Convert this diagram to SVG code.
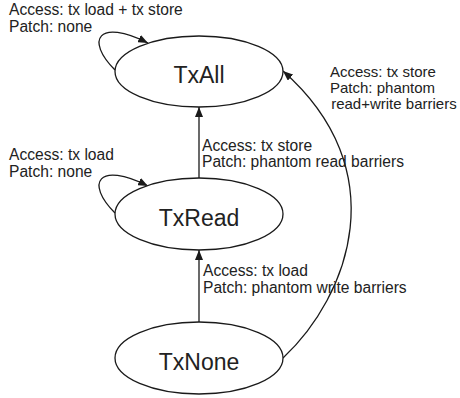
<svg xmlns="http://www.w3.org/2000/svg" width="460" height="398" viewBox="0 0 460 398">
<style>
.node ellipse{fill:#fff;stroke:#1a1a1a;stroke-width:1.3}
.node text{font-family:"Liberation Sans",Arial,sans-serif;font-size:23px;fill:#222;text-anchor:middle}
.edge{fill:none;stroke:#1a1a1a;stroke-width:1.3;marker-end:url(#ah)}
.lbl{font-family:"Liberation Sans",Arial,sans-serif;font-size:15.6px;fill:#222}
.lbl2{font-family:"Liberation Sans",Arial,sans-serif;font-size:15px;fill:#222}
</style>
<defs>
<marker id="ah" viewBox="0 0 10 8" refX="10" refY="4" markerWidth="10" markerHeight="8" markerUnits="userSpaceOnUse" orient="auto">
<path d="M0,0 L10,4 L0,8 Z" fill="#1a1a1a"/>
</marker>
</defs>
<rect width="460" height="398" fill="#fff"/>
<g id="connectors">
<path class="edge" d="M115,70 C85,40 98,18 148,43"/>
<path class="edge" d="M115,213 C85,183 98,161 148,186"/>
<path class="edge" d="M199,178 L199,107"/>
<path class="edge" d="M199,322 L199,250"/>
<path class="edge" d="M283,358 C350,295 395,170 283,71"/>
<text class="lbl" x="9" y="15">Access: tx load + tx store</text>
<text class="lbl" x="9" y="32">Patch: none</text>
<text class="lbl" x="9" y="160">Access: tx load</text>
<text class="lbl" x="9" y="177">Patch: none</text>
<text class="lbl" x="202" y="151">Access: tx store</text>
<text class="lbl" x="202" y="167">Patch: phantom read barriers</text>
<text class="lbl2" x="330" y="77">Access: tx store</text>
<text class="lbl2" x="330" y="93">Patch: phantom</text>
<text class="lbl2" x="327" y="109" xml:space="preserve"> read+write barriers</text>
<text class="lbl" x="203" y="276">Access: tx load</text>
<text class="lbl" x="203" y="293">Patch: phantom write barriers</text>
</g>
<g id="TxAll" class="node">
<ellipse cx="199" cy="71.5" rx="84" ry="35.5"/>
<text x="199" y="83">TxAll</text>
</g>
<g id="TxRead" class="node">
<ellipse cx="199" cy="214" rx="84" ry="36"/>
<text x="199" y="226">TxRead</text>
</g>
<g id="TxNone" class="node">
<ellipse cx="199" cy="358" rx="84" ry="36"/>
<text x="199" y="370">TxNone</text>
</g>
</svg>
